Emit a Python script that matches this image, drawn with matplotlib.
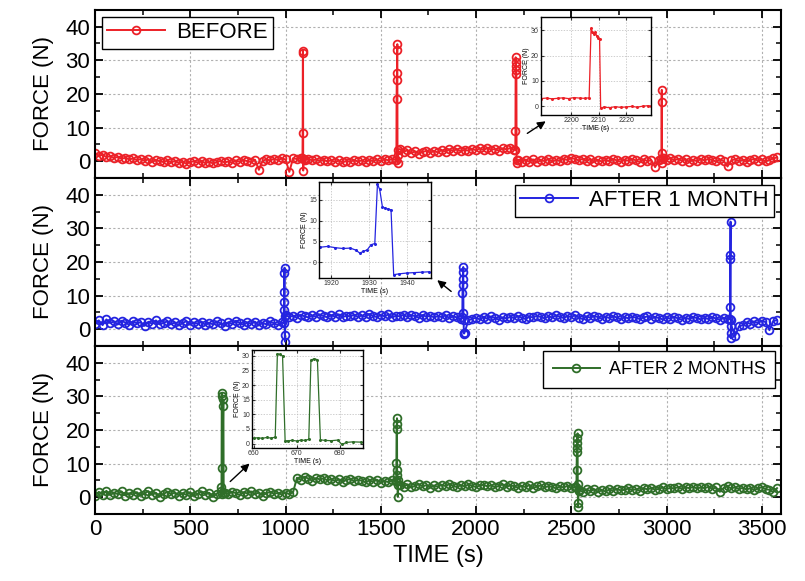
import numpy as np
import matplotlib.pyplot as plt
from matplotlib.ticker import MultipleLocator

plt.rcParams['font.family'] = ['Liberation Sans', 'DejaVu Sans']

# sampling grid of the long runs (one reading every 20 s)
t_base = np.arange(0, 3600, 20)

before_base = [
    2.4, 1.6, 1.9, 1.2, 1.5, 0.9, 1.3, 0.7, 1.0, 0.5,
    0.8, 0.3, 0.6, 0.1, 0.5, -0.2, 0.3, 0.0, -0.3, 0.2,
    -0.4, 0.1, -0.6, -0.2, -0.8, -0.3, 0.0, -0.5, -0.1, -0.6,
    -0.2, -0.7, -0.3, 0.1, -0.4, -0.1, -0.5, 0.2, -0.2, 0.3,
    0.0, -0.3, 0.4, -2.6, 0.1, 0.5, 0.2, 0.7, 0.3, 0.8,
    0.5, -3.2, 0.9, 0.6, 1.0, 0.4, 0.7, 0.2, 0.5, 0.1,
    0.4, -0.1, 0.3, -0.3, 0.2, -0.4, 0.1, -0.2, 0.3, -0.1,
    0.2, -0.3, 0.4, 0.0, 0.5, -0.1, 0.6, 0.2, 0.7, 0.3,
    3.6, 2.8, 3.2, 2.4, 2.9, 2.2, 2.7, 3.1, 2.5, 3.0,
    2.6, 3.3, 2.8, 3.5, 3.0, 3.6, 2.9, 3.4, 3.1, 3.7,
    3.2, 3.8, 3.3, 3.9, 3.4, 3.6, 3.1, 3.8, 3.5, 3.9,
    3.4, 0.2, -0.3, 0.4, -0.2, 0.5, -0.4, 0.3, 0.0, 0.6,
    -0.1, 0.4, 0.1, 0.7, 0.3, 1.0, 0.6, 0.2, 0.7, 0.1,
    0.5, -0.2, 0.3, -0.1, 0.4, 0.0, 0.6, 0.2, -0.2, 0.4,
    0.1, 0.6, 0.2, -0.3, 0.5, 0.0, 0.3, -1.8, 0.4, 0.8,
    0.3, 0.9, 0.2, 0.7, 0.1, 0.5, -0.2, 0.4, 0.0, 0.6,
    0.2, 0.7, 0.3, -0.1, 0.5, 0.1, -1.6, 0.2, 0.6, 0.0,
    0.4, -0.2, 0.3, 0.7, 0.1, 0.5, -0.1, 0.4, 0.8, 1.1,
]
before_spike_t = [1089, 1090, 1091, 1092, 1093, 1095,
                  1582, 1583, 1584, 1585, 1586, 1587, 1588, 1589, 1592,
                  2206, 2207, 2208, 2209, 2210, 2211, 2212, 2213, 2215,
                  2973, 2974, 2975, 2976, 2977, 2979]
before_spike_f = [0.8, 8.5, 32.2, 32.9, -2.8, 0.5,
                  0.2, 18.5, 24.2, 26.2, 33.0, 34.8, -0.5, 1.8, 3.4,
                  3.3, 9.0, 30.9, 29.6, 28.3, 27.1, 25.9, -0.6, 0.3,
                  0.5, 17.5, 21.2, 2.3, -0.6, 0.8]

month1_base = [
    1.5, 2.6, 1.2, 2.9, 1.8, 2.3, 1.4, 2.5, 1.9, 1.3,
    2.4, 1.7, 2.1, 1.0, 2.2, 1.6, 2.6, 1.4, 1.9, 2.3,
    1.5, 2.0, 1.1, 1.8, 2.4, 1.3, 2.0, 1.6, 2.2, 1.2,
    1.9, 1.4, 2.3, 1.7, 1.0, 2.1, 1.5, 2.5, 1.8, 1.3,
    2.0, 1.6, 2.2, 1.1, 1.9, 1.4, 2.3, 1.7, 1.2, 2.0,
    4.2, 3.6, 4.0, 3.4, 4.3, 3.8, 3.5, 4.1, 3.7, 4.4,
    3.9, 3.5, 4.2, 3.7, 4.4, 3.6, 4.0, 3.8, 4.3, 3.6,
    4.1, 3.7, 4.5, 3.9, 3.6, 4.2, 3.8, 4.4, 3.5, 4.0,
    3.8, 4.3, 3.6, 4.1, 3.9, 3.4, 4.2, 3.7, 4.0, 3.5,
    3.9, 3.6, 4.1, 3.3, 3.8, 3.5, 3.0, -1.0, 2.6, 3.1,
    3.4, 2.9, 3.6, 3.1, 3.8, 3.3, 2.8, 3.5, 3.2, 3.7,
    3.3, 3.9, 3.4, 3.0, 3.7, 3.5, 4.0, 3.6, 3.2, 3.8,
    3.5, 4.1, 3.7, 3.3, 3.9, 3.6, 4.2, 3.4, 3.0, 3.8,
    3.4, 3.9, 3.6, 3.1, 3.7, 3.3, 3.8, 3.5, 2.9, 3.6,
    3.2, 3.7, 3.4, 3.0, 3.5, 3.8, 3.1, 3.6, 3.3, 2.9,
    3.5, 3.1, 3.7, 3.2, 2.8, 3.4, 3.0, 3.6, 3.3, 2.9,
    3.4, 3.0, 3.5, 3.2, 2.8, 3.3, 3.1, 2.6, -2.0, 0.8,
    1.2, 2.0, 1.6, 2.3, 1.8, 2.5, 2.1, -0.3, 2.4, 2.7,
]
month1_spike_t = [990, 991, 992, 993, 994, 995, 996, 997, 999,
                  1928, 1929, 1930, 1931, 1932, 1933, 1934, 1935, 1936, 1937,
                  3332, 3333, 3334, 3335, 3336, 3337, 3338, 3340]
month1_spike_f = [1.8, 5.7, 8.2, 11.2, 16.7, 18.3, -1.6, -3.7, 4.0,
                  3.5, 10.7, 13.0, 15.0, 17.0, 18.5, 4.7, 2.7, -1.2, -1.3,
                  3.0, 6.7, 20.8, 22.1, 32.0, -1.2, -2.7, 1.0]

month2_base = [
    0.3, 1.6, 0.8, 1.9, 0.6, 1.4, 0.9, 1.7, 0.5, 1.2,
    0.8, 1.5, 0.4, 1.1, 1.8, 0.7, 1.3, 0.2, 1.0, 1.6,
    0.9, 1.4, 0.5, 1.2, 0.7, 1.5, 0.3, 1.0, 1.7, 0.8,
    1.3, 0.1, 1.1, 1.8, 1.4, 1.0, 1.6, 1.2, 0.6, 1.5,
    1.1, 1.7, 0.9, 1.4, 0.5, 1.2, 1.6, 1.0, 1.3, 0.8,
    1.4, 0.9, 1.5, 5.8, 5.2, 6.1, 5.5, 4.9, 5.7, 5.3,
    5.6, 5.0, 5.4, 4.8, 5.3, 4.6, 5.1, 5.5, 4.7, 5.2,
    4.9, 4.4, 5.0, 4.6, 5.2, 4.3, 4.8, 4.5, 5.0, 4.7,
    3.6, 3.1, 3.8, 2.9, 3.4, 3.9, 3.2, 3.6, 2.8, 3.5,
    3.1, 3.7, 3.3, 3.9, 3.4, 3.0, 3.6, 3.2, 3.8, 3.4,
    3.0, 3.5, 3.7, 3.2, 3.6, 2.9, 3.4, 3.8, 3.1, 3.5,
    3.3, 2.8, 3.4, 3.0, 3.6, 2.7, 3.2, 3.5, 2.9, 3.3,
    3.1, 2.6, 3.2, 2.9, 3.4, 2.8, 3.0, 2.2, 1.6, 2.3,
    1.8, 2.4, 1.5, 2.1, 1.7, 2.3, 1.9, 2.5, 2.0, 2.2,
    2.6, 2.1, 2.4, 1.9, 2.7, 2.3, 2.8, 2.2, 2.5, 2.9,
    2.4, 2.8, 2.6, 3.0, 2.5, 2.9, 2.7, 3.1, 2.6, 2.9,
    2.7, 3.1, 2.5, 2.9, 1.6, 2.8, 3.2, 2.6, 3.0, 2.4,
    2.8, 2.3, 2.7, 2.1, 2.6, 3.0, 2.4, 2.2, 1.5, 2.7,
]
month2_spike_t = [664, 665.5, 666.5, 667.3, 668, 673, 674, 675.5,
                  1581, 1582, 1583, 1584, 1585, 1586, 1587, 1588, 1589, 1591,
                  2527, 2528, 2529, 2530, 2531, 2532, 2533, 2534, 2535, 2536, 2538]
month2_spike_f = [3.1, 30.9, 30.0, 8.6, 1.0, 27.2, 29.1, 1.2,
                  4.8, 10.1, 20.2, 21.8, 23.5, 8.1, 6.6, 5.1, 0.1, 3.6,
                  3.0, 8.0, 13.4, 14.6, 16.0, 17.6, 19.0, 3.9, -1.8, -2.8, 1.8]

# zoomed records around one spike of each run
zoom_before_t = [2189, 2191, 2193, 2195, 2197, 2199, 2201, 2203, 2205, 2206.5,
                 2207.2, 2207.6, 2208.2, 2208.8, 2209.3, 2209.8, 2210.3, 2210.7,
                 2212, 2214, 2216, 2218, 2220, 2222, 2224, 2226, 2228, 2229]
zoom_before_f = [3.0, 3.2, 2.9, 3.1, 3.3, 3.0, 3.4, 3.2, 3.1, 3.3,
                 30.8, 29.5, 28.7, 29.2, 27.6, 27.0, 26.5, -0.8,
                 -0.4, -0.6, -0.2, -0.5, -0.3, -0.1, -0.4, 0.0, 0.2, -0.1]

zoom_month1_t = [1917, 1919, 1921, 1923, 1925, 1926.5, 1927.5, 1928.5, 1929.5, 1930.5,
                 1931.5, 1932.2, 1932.8, 1933.5, 1934.2, 1935, 1935.8, 1936.5,
                 1938, 1940, 1942, 1944, 1946]
zoom_month1_f = [3.6, 3.8, 3.5, 3.3, 3.4, 2.9, 2.2, 2.6, 3.0, 4.2,
                 4.5, 18.8, 17.5, 13.4, 13.0, 12.8, 12.6, -3.0,
                 -2.8, -2.6, -2.5, -2.4, -2.3]

zoom_month2_t = [660, 661, 662, 663, 664, 665, 665.5, 666, 666.7, 667.3, 668, 669,
                 670, 671, 672, 672.8, 673.3, 674, 674.8, 675.5, 676.5, 678, 679.5,
                 680.5, 681.5, 683, 685]
zoom_month2_f = [1.9, 2.0, 1.8, 2.1, 1.9, 2.2, 30.7, 30.5, 30.0, 0.9, 1.0, 1.1,
                 0.9, 1.2, 1.1, 1.5, 28.5, 29.0, 28.7, 1.3, 1.1, 1.0, 1.2,
                 -0.3, 0.4, 0.6, 0.5]


def merge(base, spike_t, spike_f):
    t = np.concatenate([t_base, spike_t])
    f = np.concatenate([base, spike_f])
    order = np.argsort(t, kind='stable')
    return t[order], f[order]


# name, colour, data, legend corner, legend font size, legend padding
runs = [
    ('BEFORE', '#ec2027', before_base, before_spike_t, before_spike_f, 'upper left', 16, 0.25),
    ('AFTER 1 MONTH', '#2424e0', month1_base, month1_spike_t, month1_spike_f, 'upper right', 16, 0.25),
    ('AFTER 2 MONTHS', '#2f6e29', month2_base, month2_spike_t, month2_spike_f, 'upper right', 13, 0.55),
]

fig = plt.figure(figsize=(8.05, 5.81), dpi=100)
axes = fig.subplots(3, 1, sharex=True)
fig.subplots_adjust(left=0.118, right=0.970, top=0.983, bottom=0.1153, hspace=0)

for ax, (name, color, base, st, sf, loc, lsize, lpad) in zip(axes, runs):
    t, f = merge(base, st, sf)
    ax.plot(t, f, '-o', color=color, lw=1.4, ms=5.6, mfc='none', mew=1.3, label=name)
    ax.set_xlim(0, 3600)
    ax.set_ylim(-5, 45)
    ax.set_yticks([0, 10, 20, 30, 40])
    ax.yaxis.set_minor_locator(MultipleLocator(5))
    ax.xaxis.set_major_locator(MultipleLocator(500))
    ax.xaxis.set_minor_locator(MultipleLocator(250))
    ax.tick_params(which='both', direction='in', top=True, right=True, labelsize=16)
    ax.tick_params(which='major', length=6, width=1.3)
    ax.tick_params(which='minor', length=3.5, width=1.1)
    ax.grid(True, which='major', ls=(0, (2, 2)), color='#b0b0b0', lw=0.8)
    for s in ax.spines.values():
        s.set_linewidth(1.5)
    ax.set_ylabel('FORCE (N)', fontsize=16, labelpad=8)
    leg = ax.legend(loc=loc, fontsize=lsize, fancybox=False, edgecolor='black',
                    framealpha=1, handlelength=2.6, borderpad=lpad,
                    handletextpad=0.5, borderaxespad=0.3)
    leg.get_frame().set_linewidth(1.0)

axes[-1].set_xlabel('TIME (s)', fontsize=17)


def inset(rect, t, f, color, xlim, ylim, xticks, yticks):
    ins = fig.add_axes(rect)
    ins.plot(t, f, '-o', color=color, lw=0.9, ms=1.2)
    ins.set_xlim(*xlim)
    ins.set_ylim(*ylim)
    ins.set_xticks(xticks)
    ins.set_yticks(yticks)
    ins.tick_params(which='both', direction='in', top=True, right=True,
                    labelsize=5, length=2.5, width=0.8, pad=1.5, colors='#333333')
    ins.grid(True, ls=(0, (2, 2)), color='#bbbbbb', lw=0.5)
    ins.set_xlabel('TIME (s)', fontsize=5, labelpad=0.5)
    ins.set_ylabel('FORCE (N)', fontsize=5, labelpad=1)
    for s in ins.spines.values():
        s.set_linewidth(1.0)
    return ins


inset([541 / 805, 1 - 115 / 581, 110 / 805, 98 / 581], zoom_before_t, zoom_before_f,
      '#ec2027', (2189, 2229), (-3.5, 35.3), [2200, 2210, 2220], [0, 10, 20, 30])
inset([319 / 805, 1 - 278 / 581, 112 / 805, 96 / 581], zoom_month1_t, zoom_month1_f,
      '#2424e0', (1916.7, 1946.4), (-3.8, 19.3), [1920, 1930, 1940], [0, 5, 10, 15])
inset([252 / 805, 1 - 448 / 581, 111 / 805, 98 / 581], zoom_month2_t, zoom_month2_f,
      '#2f6e29', (659.6, 685.4), (-1.5, 32), [660, 670, 680], [0, 5, 10, 15, 20, 25, 30])

# arrows from each spike to its zoomed view
arrow = dict(arrowstyle='-|>', color='black', lw=1.0, mutation_scale=12)
axes[0].annotate('', xy=(2378, 12.3), xytext=(2257, 7.8), arrowprops=arrow)
axes[1].annotate('', xy=(1785, 15.1), xytext=(1881, 10.7), arrowprops=arrow)
axes[2].annotate('', xy=(822, 10.6), xytext=(699, 4.1), arrowprops=arrow)

fig.savefig('out.png', dpi=100)
